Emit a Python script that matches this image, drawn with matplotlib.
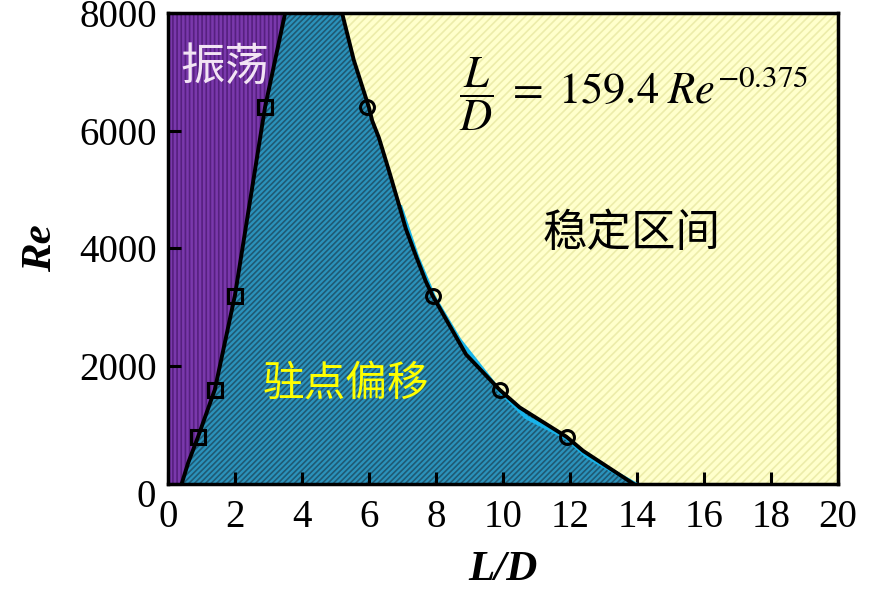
import numpy as np
import matplotlib
matplotlib.use('Agg')
import matplotlib.pyplot as plt

plt.rcParams['font.family'] = ['Liberation Serif', 'DejaVu Serif']
plt.rcParams['mathtext.fontset'] = 'stix'
plt.rcParams['hatch.linewidth'] = 1.2

# boundary between oscillation and stagnation-shift regions
left_ld = [0.41, 0.6, 0.9, 1.4, 2.0, 2.9, 3.5]
left_re = [0, 350, 800, 1600, 3200, 6400, 8000]

# boundary between stagnation-shift and stable regions
right_ld = [13.9, 12.4, 11.9, 10.5, 9.9, 8.9, 8.5, 7.9, 7.7, 7.4, 7.1, 6.9, 6.6, 6.3, 6.1, 6.0, 5.55, 5.2]
right_re = [0, 560, 800, 1300, 1600, 2200, 2600, 3200, 3440, 3880, 4340, 4740, 5320, 5880, 6170, 6400, 7200, 8000]

# cyan edge of the filled region
fit_ld = [6.95, 7.45, 7.95, 8.7, 9.9, 10.7, 11.9, 12.5, 13.95]
fit_re = [4700, 3850, 3170, 2450, 1580, 1130, 780, 470, 0]

sq_ld = [0.9, 1.4, 2.0, 2.9]
sq_re = [800, 1600, 3200, 6400]
ci_ld = [11.9, 9.9, 7.9, 5.95]
ci_re = [800, 1600, 3200, 6400]

xticks = list(range(0, 21, 2))
yticks = [0, 2000, 4000, 6000, 8000]

fig = plt.figure(figsize=(8.7, 5.93), dpi=100)
ax = fig.add_axes([0.193, 0.184, 0.77, 0.794])

re_grid = np.linspace(0, 8000, 600)
xl = np.interp(re_grid, left_re, left_ld)
xr = np.interp(re_grid, right_re, right_ld)

ax.fill_betweenx(re_grid, 0, xl, facecolor='#7a38ac', edgecolor='#56207f',
                 hatch='||||', linewidth=0, zorder=1)
ax.fill_betweenx(re_grid, xl, xr, facecolor='#2b92bb', edgecolor='#1f5a74',
                 hatch='//////', linewidth=0, zorder=1)
ax.fill_betweenx(re_grid, xr, 20, facecolor='#ffffcc', edgecolor='#ececaa',
                 hatch='////', linewidth=0, zorder=1)

ax.plot(fit_ld, fit_re, color='#18b4ea', lw=2.8, zorder=2)
ax.plot(left_ld, left_re, color='black', lw=2.8, zorder=3)
ax.plot(right_ld, right_re, color='black', lw=2.8, zorder=3)
ax.plot(sq_ld, sq_re, 's', ms=10, mfc='none', mec='black', mew=2.2, zorder=4)
ax.plot(ci_ld, ci_re, 'o', ms=10, mfc='none', mec='black', mew=2.2, zorder=4)

ax.set_xlim(0, 20)
ax.set_ylim(0, 8000)
ax.set_xticks(xticks)
ax.set_yticks(yticks)
ax.set_yticklabels([''] + [str(v) for v in yticks[1:]])
ax.tick_params(direction='in', length=9, width=2.2, labelsize=28, top=False, right=False)
ax.tick_params(axis='x', pad=11)
ax.tick_params(axis='y', pad=8)
ax.annotate('0', xy=(0, 0), xycoords='data', xytext=(-9, -10), textcoords='offset points',
            ha='right', va='center', fontsize=28)
for s in ax.spines.values():
    s.set_linewidth(2.5)
    s.set_zorder(5)

ax.set_xlabel('L/D', fontsize=31, fontweight='bold', fontstyle='italic', labelpad=11)
ax.set_ylabel('Re', fontsize=31, fontweight='bold', fontstyle='italic', labelpad=14)

cjk = ['Noto Sans CJK SC', 'DejaVu Sans']
ax.text(1.7, 7080, '振荡', family=cjk, fontsize=32, color='#f2e4f4', ha='center', va='center', zorder=6)
ax.text(13.85, 4260, '稳定区间', family=cjk, fontsize=32, color='black', ha='center', va='center', zorder=6)
ax.text(5.3, 1690, '驻点偏移', family=cjk, fontsize=30, color='#ffff00', ha='center', va='center', zorder=6)
ax.text(13.9, 6620, r'$\dfrac{L}{D}\;=\;159.4\;Re^{-0.375}$', fontsize=32,
        ha='center', va='center', zorder=6)

fig.savefig('out.png', dpi=100)
